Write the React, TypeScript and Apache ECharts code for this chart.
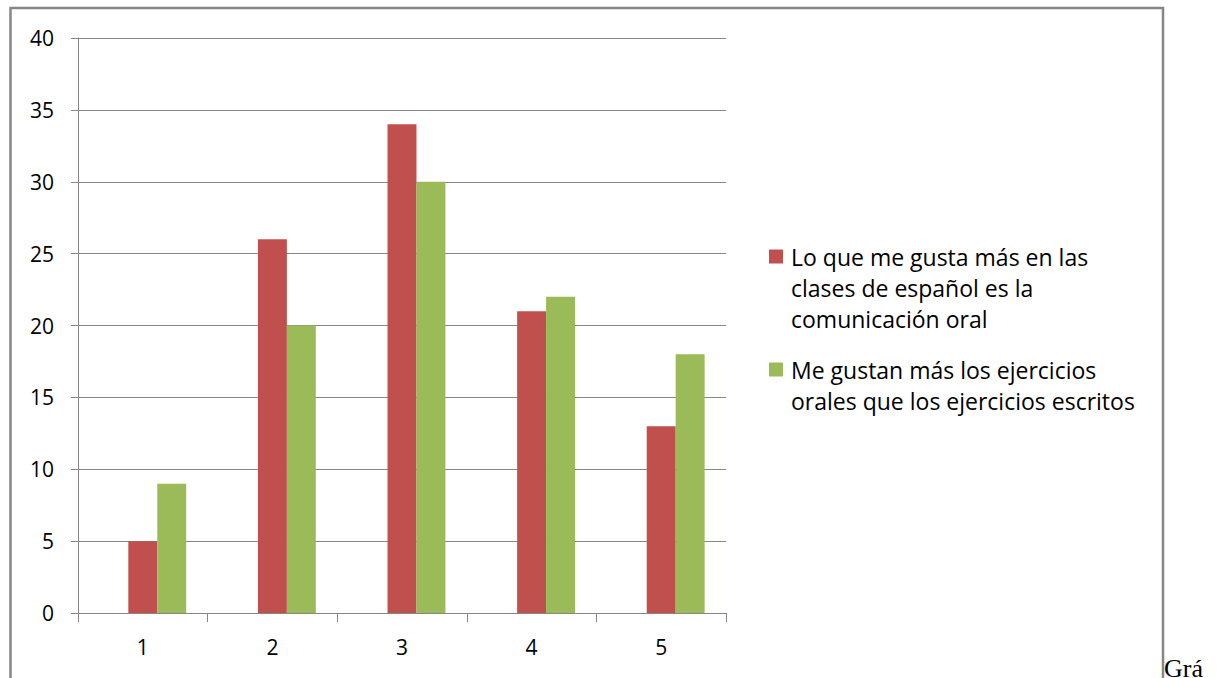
import React, { useEffect, useRef } from "react";
import * as echarts from "echarts";

const categories = ["1", "2", "3", "4", "5"];
const seriesNames = [
  "Lo que me gusta más en las clases de español es la comunicación oral",
  "Me gustan más los ejercicios orales que los ejercicios escritos",
];
const legendLines = [
  ["Lo que me gusta más en las", "clases de español es la", "comunicación oral"],
  ["Me gustan más los ejercicios", "orales que los ejercicios escritos"],
];
// The original chart keeps an empty first slot in every category group.
const emptyValues = [null, null, null, null, null];
const oralValues = [5, 26, 34, 21, 13];
const ejerciciosValues = [9, 20, 30, 22, 18];
const colors = ["#C0504D", "#9BBB59"];
const yTicks = { min: 0, max: 40, interval: 5 };

const FONT = "Open Sans";
const GRAY = "#868686";

export default function App() {
  const ref = useRef<HTMLDivElement>(null);
  useEffect(() => {
    if (!ref.current) return;
    const chart = echarts.init(ref.current, null, { renderer: "svg" });
    const LH = 31;
    const makeLegend = (i: number, iconCenterY: number) => {
      const n = legendLines[i].length;
      const blanks = new Array(n - 1).fill("");
      const total = 2 * n - 1;
      return {
        data: [seriesNames[i]],
        orient: "vertical",
        left: 769,
        top: iconCenterY - (total * LH) / 2,
        padding: 0,
        itemWidth: 14,
        itemHeight: 14,
        itemGap: 0,
        icon: "rect",
        formatter: () => blanks.concat(legendLines[i]).join("\n"),
        textStyle: {
          fontFamily: FONT,
          fontSize: 23,
          color: "#000",
          lineHeight: LH,
          padding: [0, 0, 0, 3],
        },
      };
    };
    chart.setOption({
      animation: false,
      color: colors,
      graphic: [
        {
          type: "rect",
          shape: { x: 10.5, y: 8, width: 1152.5, height: 720 },
          style: { fill: "none", stroke: GRAY, lineWidth: 2.5 },
          silent: true,
        },
        {
          type: "text",
          x: 1164,
          y: 681,
          style: {
            text: "Grá",
            fontFamily: "Liberation Serif",
            fontSize: 26,
            fill: "#000",
            verticalAlign: "bottom",
          },
        },
      ],
      legend: [makeLegend(0, 256.5), makeLegend(1, 369.5)],
      grid: { left: 78, top: 38, right: 491, bottom: 65, containLabel: false },
      xAxis: {
        type: "category",
        data: categories,
        boundaryGap: true,
        axisLine: { show: true, lineStyle: { color: GRAY, width: 1 } },
        axisTick: { show: true, length: 9, alignWithLabel: false, lineStyle: { color: GRAY } },
        axisLabel: { fontFamily: FONT, fontSize: 21, color: "#000", margin: 23 },
      },
      yAxis: {
        type: "value",
        min: yTicks.min,
        max: yTicks.max,
        interval: yTicks.interval,
        axisLine: { show: true, lineStyle: { color: GRAY, width: 1 } },
        axisTick: { show: true, length: 7, lineStyle: { color: GRAY } },
        splitLine: { show: true, lineStyle: { color: GRAY, width: 1 } },
        axisLabel: { fontFamily: FONT, fontSize: 21, color: "#000", margin: 24 },
      },
      series: [
        {
          name: "",
          type: "bar",
          data: emptyValues,
          barGap: "0%",
          barCategoryGap: "33%",
          silent: true,
        },
        {
          name: seriesNames[0],
          type: "bar",
          data: oralValues,
          barGap: "0%",
          barCategoryGap: "33%",
          itemStyle: { color: colors[0] },
        },
        {
          name: seriesNames[1],
          type: "bar",
          data: ejerciciosValues,
          barGap: "0%",
          barCategoryGap: "33%",
          itemStyle: { color: colors[1] },
        },
      ],
    });
    return () => chart.dispose();
  }, []);
  return (
    <div
      ref={ref}
      style={{ position: "fixed", left: 0, top: 0, width: 1217, height: 678, background: "#fff" }}
    />
  );
}
